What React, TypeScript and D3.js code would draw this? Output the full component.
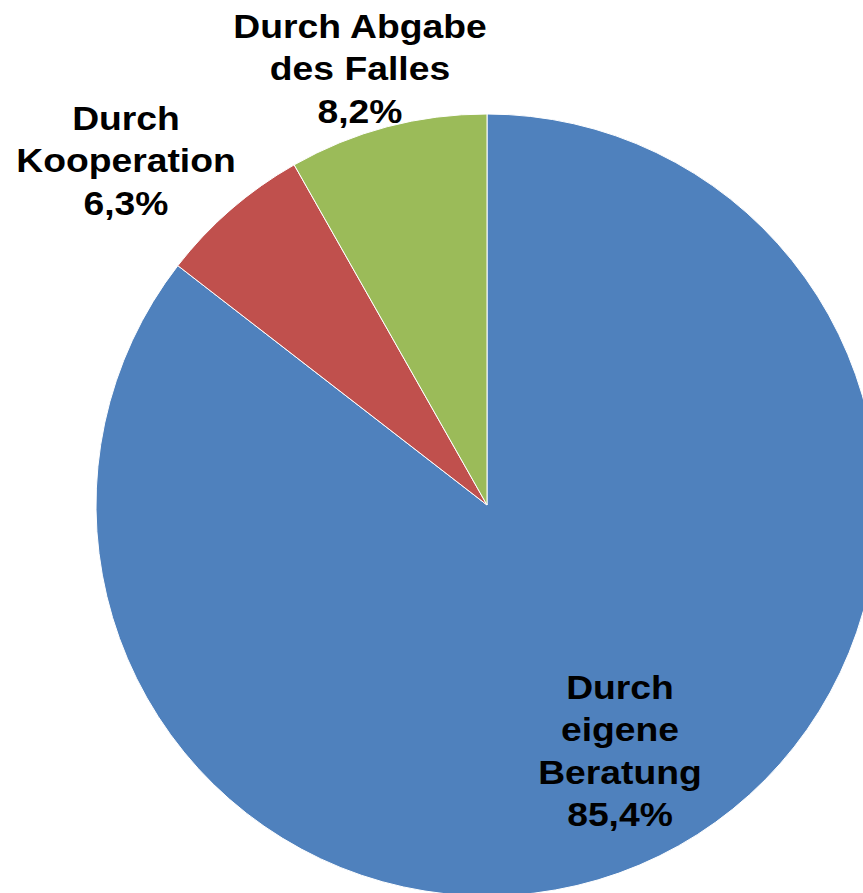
import * as d3 from 'd3'

const categories = ['Durch eigene Beratung', 'Durch Kooperation', 'Durch Abgabe des Falles']
const values = [85.4, 6.3, 8.2]
const colors = ['#4F81BD', '#C0504D', '#9BBB59']
// label lines as shown on the chart
const labelLines = [
    ['Durch', 'eigene', 'Beratung', '85,4%'],
    ['Durch', 'Kooperation', '6,3%'],
    ['Durch Abgabe', 'des Falles', '8,2%'],
]
const labelPos = [
    { x: 620, y: 699 },
    { x: 126, y: 130 },
    { x: 360, y: 38 },
]

const W = 863
const H = 893
const cx = 487
const cy = 505
const R = 391

const App = () => {
    const pie = d3.pie<number>().sort(null).value(d => d)
    const arcs = pie(values)
    const arc = d3.arc<d3.PieArcDatum<number>>().innerRadius(0).outerRadius(R)

    return (
        <svg width={W} height={H} style={{ position: 'absolute', left: 0, top: 0, display: 'block' }}>
            <rect width={W} height={H} fill="#fff" />
            <g transform={`translate(${cx}, ${cy})`}>
                {arcs.map((a, i) => (
                    <path key={categories[i]} d={arc(a) || ''} fill={colors[i]} stroke="#fff" strokeWidth={1} />
                ))}
            </g>
            {labelLines.map((lines, i) => (
                <g key={i} transform={`translate(${labelPos[i].x}, ${labelPos[i].y}) scale(1.13, 1)`}>
                    <text x={0} y={0} textAnchor="middle"
                        style={{ fontFamily: '"Liberation Sans", Arial, sans-serif', fontWeight: 'bold', fontSize: '33px' }}
                        fill="#000">
                        {lines.map((l, j) => (
                            <tspan key={j} x={0} dy={j === 0 ? 0 : 42.5}>{l}</tspan>
                        ))}
                    </text>
                </g>
            ))}
        </svg>
    )
}

export default App
